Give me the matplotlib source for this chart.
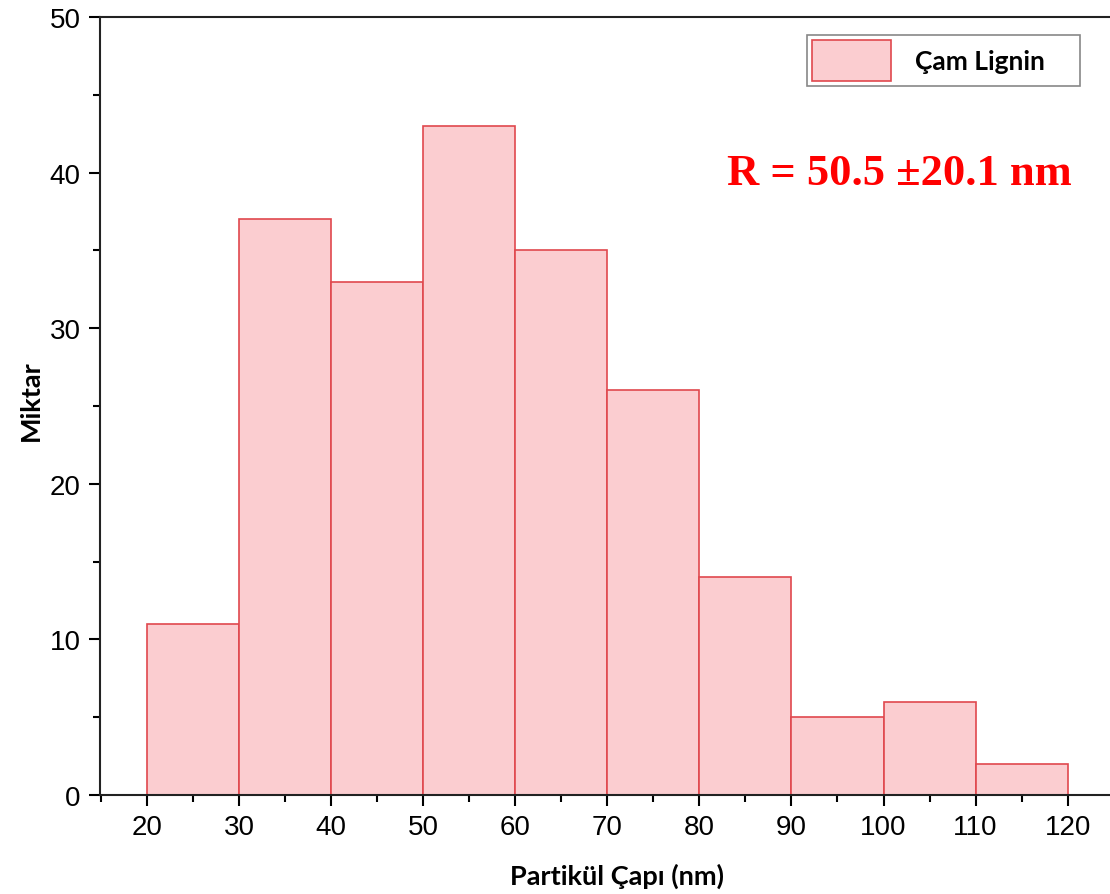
import matplotlib.pyplot as plt
from matplotlib.ticker import MultipleLocator

# particle size histogram (bin edges in nm, counts per bin)
bin_edges = [20, 30, 40, 50, 60, 70, 80, 90, 100, 110, 120]
counts = [11, 37, 33, 43, 35, 26, 14, 5, 6, 2]
series_name = "Çam Lignin"
stat_text = "R = 50.5 ±20.1 nm"

fig = plt.figure(figsize=(11.1, 8.95), dpi=100)
ax = fig.add_axes([100 / 1110, 1 - 796 / 895, 1 - 100 / 1110, (796 - 18) / 895])

lefts = bin_edges[:-1]
widths = [b - a for a, b in zip(bin_edges[:-1], bin_edges[1:])]
ax.bar(lefts, counts, width=widths, align="edge",
       color="#FBCDD0", edgecolor="#E0484E", linewidth=1.2, label=series_name)

ax.set_xlim(14.9, 124.6)
ax.set_ylim(0, 50)
ax.xaxis.set_major_locator(MultipleLocator(10))
ax.xaxis.set_minor_locator(MultipleLocator(5))
ax.yaxis.set_major_locator(MultipleLocator(10))
ax.yaxis.set_minor_locator(MultipleLocator(5))
ax.set_xticks(range(20, 121, 10))

ax.tick_params(which="major", direction="out", length=8, width=1.5,
               labelsize=20, pad=6)
ax.tick_params(which="minor", direction="out", length=5, width=1.5)
for lab in ax.get_xticklabels() + ax.get_yticklabels():
    lab.set_fontfamily("Liberation Sans")

ax.spines["right"].set_visible(False)
for s in ["left", "bottom", "top"]:
    ax.spines[s].set_linewidth(1.5)
    ax.spines[s].set_color("#222222")

ax.set_xlabel("Partikül Çapı (nm)", fontsize=19.5, fontweight="bold", family="Lato")
ax.set_ylabel("Miktar", fontsize=19.5, fontweight="bold", family="Lato")
ax.xaxis.set_label_coords((617 - 100) / 1010, -(864 - 796) / 778)
ax.yaxis.set_label_coords(-(100 - 43) / 1010, (796 - 401) / 778)

# legend box stretched to a fixed width, text left-aligned inside
leg = ax.legend(loc="upper left", mode="expand",
                bbox_to_anchor=(0.700, 0.910, 0.2703, 0.0669),
                prop={"family": "Lato", "weight": "bold", "size": 19},
                fancybox=False, framealpha=1, edgecolor="#888888",
                handlelength=3.0, handleheight=2.0, borderpad=0.2,
                handletextpad=0.9, borderaxespad=0)
leg.get_frame().set_linewidth(1.2)

ax.text(0.962, 0.8, stat_text, transform=ax.transAxes, ha="right", va="center",
        fontsize=32, fontweight="bold", color="#FF0000", family="Liberation Serif")

fig.savefig("out.png", dpi=100)
